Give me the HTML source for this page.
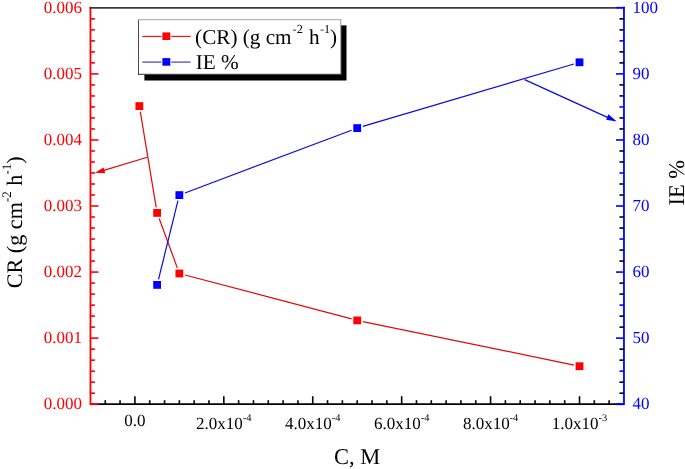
<!DOCTYPE html>
<html><head><meta charset="utf-8"><style>
html,body{margin:0;padding:0;background:#fff;}
svg{display:block;will-change:transform;font-family:"Liberation Serif",serif;text-rendering:geometricPrecision;}
</style></head><body>
<svg width="685" height="469" viewBox="0 0 685 469">
<rect width="685" height="469" fill="#fff"/>
<line x1="90.44" y1="404.20" x2="623.96" y2="404.20" stroke="#000" stroke-width="1.8"/>
<line x1="105.26" y1="404.20" x2="105.26" y2="400.20" stroke="#000" stroke-width="1.6"/>
<line x1="120.08" y1="404.20" x2="120.08" y2="400.20" stroke="#000" stroke-width="1.6"/>
<line x1="134.90" y1="404.20" x2="134.90" y2="396.20" stroke="#000" stroke-width="1.6"/>
<line x1="149.72" y1="404.20" x2="149.72" y2="400.20" stroke="#000" stroke-width="1.6"/>
<line x1="164.54" y1="404.20" x2="164.54" y2="400.20" stroke="#000" stroke-width="1.6"/>
<line x1="179.36" y1="404.20" x2="179.36" y2="400.20" stroke="#000" stroke-width="1.6"/>
<line x1="194.18" y1="404.20" x2="194.18" y2="400.20" stroke="#000" stroke-width="1.6"/>
<line x1="209.00" y1="404.20" x2="209.00" y2="400.20" stroke="#000" stroke-width="1.6"/>
<line x1="223.82" y1="404.20" x2="223.82" y2="396.20" stroke="#000" stroke-width="1.6"/>
<line x1="238.64" y1="404.20" x2="238.64" y2="400.20" stroke="#000" stroke-width="1.6"/>
<line x1="253.46" y1="404.20" x2="253.46" y2="400.20" stroke="#000" stroke-width="1.6"/>
<line x1="268.28" y1="404.20" x2="268.28" y2="400.20" stroke="#000" stroke-width="1.6"/>
<line x1="283.10" y1="404.20" x2="283.10" y2="400.20" stroke="#000" stroke-width="1.6"/>
<line x1="297.92" y1="404.20" x2="297.92" y2="400.20" stroke="#000" stroke-width="1.6"/>
<line x1="312.74" y1="404.20" x2="312.74" y2="396.20" stroke="#000" stroke-width="1.6"/>
<line x1="327.56" y1="404.20" x2="327.56" y2="400.20" stroke="#000" stroke-width="1.6"/>
<line x1="342.38" y1="404.20" x2="342.38" y2="400.20" stroke="#000" stroke-width="1.6"/>
<line x1="357.20" y1="404.20" x2="357.20" y2="400.20" stroke="#000" stroke-width="1.6"/>
<line x1="372.02" y1="404.20" x2="372.02" y2="400.20" stroke="#000" stroke-width="1.6"/>
<line x1="386.84" y1="404.20" x2="386.84" y2="400.20" stroke="#000" stroke-width="1.6"/>
<line x1="401.66" y1="404.20" x2="401.66" y2="396.20" stroke="#000" stroke-width="1.6"/>
<line x1="416.48" y1="404.20" x2="416.48" y2="400.20" stroke="#000" stroke-width="1.6"/>
<line x1="431.30" y1="404.20" x2="431.30" y2="400.20" stroke="#000" stroke-width="1.6"/>
<line x1="446.12" y1="404.20" x2="446.12" y2="400.20" stroke="#000" stroke-width="1.6"/>
<line x1="460.94" y1="404.20" x2="460.94" y2="400.20" stroke="#000" stroke-width="1.6"/>
<line x1="475.76" y1="404.20" x2="475.76" y2="400.20" stroke="#000" stroke-width="1.6"/>
<line x1="490.58" y1="404.20" x2="490.58" y2="396.20" stroke="#000" stroke-width="1.6"/>
<line x1="505.40" y1="404.20" x2="505.40" y2="400.20" stroke="#000" stroke-width="1.6"/>
<line x1="520.22" y1="404.20" x2="520.22" y2="400.20" stroke="#000" stroke-width="1.6"/>
<line x1="535.04" y1="404.20" x2="535.04" y2="400.20" stroke="#000" stroke-width="1.6"/>
<line x1="549.86" y1="404.20" x2="549.86" y2="400.20" stroke="#000" stroke-width="1.6"/>
<line x1="564.68" y1="404.20" x2="564.68" y2="400.20" stroke="#000" stroke-width="1.6"/>
<line x1="579.50" y1="404.20" x2="579.50" y2="396.20" stroke="#000" stroke-width="1.6"/>
<line x1="594.32" y1="404.20" x2="594.32" y2="400.20" stroke="#000" stroke-width="1.6"/>
<line x1="609.14" y1="404.20" x2="609.14" y2="400.20" stroke="#000" stroke-width="1.6"/>
<line x1="90.44" y1="6.84" x2="90.44" y2="405.10" stroke="#ff0000" stroke-width="1.8"/>
<line x1="90.44" y1="404.20" x2="98.44" y2="404.20" stroke="#ff0000" stroke-width="1.9"/>
<line x1="90.44" y1="393.19" x2="94.94" y2="393.19" stroke="#ff0000" stroke-width="1.6"/>
<line x1="90.44" y1="382.18" x2="94.94" y2="382.18" stroke="#ff0000" stroke-width="1.6"/>
<line x1="90.44" y1="371.17" x2="94.94" y2="371.17" stroke="#ff0000" stroke-width="1.6"/>
<line x1="90.44" y1="360.16" x2="94.94" y2="360.16" stroke="#ff0000" stroke-width="1.6"/>
<line x1="90.44" y1="349.15" x2="94.94" y2="349.15" stroke="#ff0000" stroke-width="1.6"/>
<line x1="90.44" y1="338.14" x2="98.44" y2="338.14" stroke="#ff0000" stroke-width="1.6"/>
<line x1="90.44" y1="327.13" x2="94.94" y2="327.13" stroke="#ff0000" stroke-width="1.6"/>
<line x1="90.44" y1="316.12" x2="94.94" y2="316.12" stroke="#ff0000" stroke-width="1.6"/>
<line x1="90.44" y1="305.11" x2="94.94" y2="305.11" stroke="#ff0000" stroke-width="1.6"/>
<line x1="90.44" y1="294.10" x2="94.94" y2="294.10" stroke="#ff0000" stroke-width="1.6"/>
<line x1="90.44" y1="283.09" x2="94.94" y2="283.09" stroke="#ff0000" stroke-width="1.6"/>
<line x1="90.44" y1="272.08" x2="98.44" y2="272.08" stroke="#ff0000" stroke-width="1.6"/>
<line x1="90.44" y1="261.07" x2="94.94" y2="261.07" stroke="#ff0000" stroke-width="1.6"/>
<line x1="90.44" y1="250.06" x2="94.94" y2="250.06" stroke="#ff0000" stroke-width="1.6"/>
<line x1="90.44" y1="239.05" x2="94.94" y2="239.05" stroke="#ff0000" stroke-width="1.6"/>
<line x1="90.44" y1="228.04" x2="94.94" y2="228.04" stroke="#ff0000" stroke-width="1.6"/>
<line x1="90.44" y1="217.03" x2="94.94" y2="217.03" stroke="#ff0000" stroke-width="1.6"/>
<line x1="90.44" y1="206.02" x2="98.44" y2="206.02" stroke="#ff0000" stroke-width="1.6"/>
<line x1="90.44" y1="195.01" x2="94.94" y2="195.01" stroke="#ff0000" stroke-width="1.6"/>
<line x1="90.44" y1="184.00" x2="94.94" y2="184.00" stroke="#ff0000" stroke-width="1.6"/>
<line x1="90.44" y1="172.99" x2="94.94" y2="172.99" stroke="#ff0000" stroke-width="1.6"/>
<line x1="90.44" y1="161.98" x2="94.94" y2="161.98" stroke="#ff0000" stroke-width="1.6"/>
<line x1="90.44" y1="150.97" x2="94.94" y2="150.97" stroke="#ff0000" stroke-width="1.6"/>
<line x1="90.44" y1="139.96" x2="98.44" y2="139.96" stroke="#ff0000" stroke-width="1.6"/>
<line x1="90.44" y1="128.95" x2="94.94" y2="128.95" stroke="#ff0000" stroke-width="1.6"/>
<line x1="90.44" y1="117.94" x2="94.94" y2="117.94" stroke="#ff0000" stroke-width="1.6"/>
<line x1="90.44" y1="106.93" x2="94.94" y2="106.93" stroke="#ff0000" stroke-width="1.6"/>
<line x1="90.44" y1="95.92" x2="94.94" y2="95.92" stroke="#ff0000" stroke-width="1.6"/>
<line x1="90.44" y1="84.91" x2="94.94" y2="84.91" stroke="#ff0000" stroke-width="1.6"/>
<line x1="90.44" y1="73.90" x2="98.44" y2="73.90" stroke="#ff0000" stroke-width="1.6"/>
<line x1="90.44" y1="62.89" x2="94.94" y2="62.89" stroke="#ff0000" stroke-width="1.6"/>
<line x1="90.44" y1="51.88" x2="94.94" y2="51.88" stroke="#ff0000" stroke-width="1.6"/>
<line x1="90.44" y1="40.87" x2="94.94" y2="40.87" stroke="#ff0000" stroke-width="1.6"/>
<line x1="90.44" y1="29.86" x2="94.94" y2="29.86" stroke="#ff0000" stroke-width="1.6"/>
<line x1="90.44" y1="18.85" x2="94.94" y2="18.85" stroke="#ff0000" stroke-width="1.6"/>
<line x1="623.96" y1="6.84" x2="623.96" y2="405.10" stroke="#0000ff" stroke-width="1.8"/>
<line x1="623.96" y1="404.20" x2="615.96" y2="404.20" stroke="#0000ff" stroke-width="1.9"/>
<line x1="623.96" y1="393.19" x2="619.46" y2="393.19" stroke="#000" stroke-width="1.6"/>
<line x1="623.96" y1="382.18" x2="619.46" y2="382.18" stroke="#000" stroke-width="1.6"/>
<line x1="623.96" y1="371.17" x2="619.46" y2="371.17" stroke="#0000ff" stroke-width="1.6"/>
<line x1="623.96" y1="360.16" x2="619.46" y2="360.16" stroke="#000" stroke-width="1.6"/>
<line x1="623.96" y1="349.15" x2="619.46" y2="349.15" stroke="#000" stroke-width="1.6"/>
<line x1="623.96" y1="338.14" x2="615.96" y2="338.14" stroke="#0000ff" stroke-width="1.6"/>
<line x1="623.96" y1="327.13" x2="619.46" y2="327.13" stroke="#000" stroke-width="1.6"/>
<line x1="623.96" y1="316.12" x2="619.46" y2="316.12" stroke="#000" stroke-width="1.6"/>
<line x1="623.96" y1="305.11" x2="619.46" y2="305.11" stroke="#0000ff" stroke-width="1.6"/>
<line x1="623.96" y1="294.10" x2="619.46" y2="294.10" stroke="#000" stroke-width="1.6"/>
<line x1="623.96" y1="283.09" x2="619.46" y2="283.09" stroke="#000" stroke-width="1.6"/>
<line x1="623.96" y1="272.08" x2="615.96" y2="272.08" stroke="#0000ff" stroke-width="1.6"/>
<line x1="623.96" y1="261.07" x2="619.46" y2="261.07" stroke="#000" stroke-width="1.6"/>
<line x1="623.96" y1="250.06" x2="619.46" y2="250.06" stroke="#000" stroke-width="1.6"/>
<line x1="623.96" y1="239.05" x2="619.46" y2="239.05" stroke="#0000ff" stroke-width="1.6"/>
<line x1="623.96" y1="228.04" x2="619.46" y2="228.04" stroke="#000" stroke-width="1.6"/>
<line x1="623.96" y1="217.03" x2="619.46" y2="217.03" stroke="#000" stroke-width="1.6"/>
<line x1="623.96" y1="206.02" x2="615.96" y2="206.02" stroke="#0000ff" stroke-width="1.6"/>
<line x1="623.96" y1="195.01" x2="619.46" y2="195.01" stroke="#000" stroke-width="1.6"/>
<line x1="623.96" y1="184.00" x2="619.46" y2="184.00" stroke="#000" stroke-width="1.6"/>
<line x1="623.96" y1="172.99" x2="619.46" y2="172.99" stroke="#0000ff" stroke-width="1.6"/>
<line x1="623.96" y1="161.98" x2="619.46" y2="161.98" stroke="#000" stroke-width="1.6"/>
<line x1="623.96" y1="150.97" x2="619.46" y2="150.97" stroke="#000" stroke-width="1.6"/>
<line x1="623.96" y1="139.96" x2="615.96" y2="139.96" stroke="#0000ff" stroke-width="1.6"/>
<line x1="623.96" y1="128.95" x2="619.46" y2="128.95" stroke="#000" stroke-width="1.6"/>
<line x1="623.96" y1="117.94" x2="619.46" y2="117.94" stroke="#000" stroke-width="1.6"/>
<line x1="623.96" y1="106.93" x2="619.46" y2="106.93" stroke="#0000ff" stroke-width="1.6"/>
<line x1="623.96" y1="95.92" x2="619.46" y2="95.92" stroke="#000" stroke-width="1.6"/>
<line x1="623.96" y1="84.91" x2="619.46" y2="84.91" stroke="#000" stroke-width="1.6"/>
<line x1="623.96" y1="73.90" x2="615.96" y2="73.90" stroke="#0000ff" stroke-width="1.6"/>
<line x1="623.96" y1="62.89" x2="619.46" y2="62.89" stroke="#000" stroke-width="1.6"/>
<line x1="623.96" y1="51.88" x2="619.46" y2="51.88" stroke="#000" stroke-width="1.6"/>
<line x1="623.96" y1="40.87" x2="619.46" y2="40.87" stroke="#0000ff" stroke-width="1.6"/>
<line x1="623.96" y1="29.86" x2="619.46" y2="29.86" stroke="#000" stroke-width="1.6"/>
<line x1="623.96" y1="18.85" x2="619.46" y2="18.85" stroke="#000" stroke-width="1.6"/>
<line x1="89.54" y1="7.84" x2="615.96" y2="7.84" stroke="#3a3a3a" stroke-width="1.9"/>
<line x1="615.96" y1="7.84" x2="624.86" y2="7.84" stroke="#0000ff" stroke-width="1.9"/>
<text transform="matrix(1 0 0.000873 1 -0.357 0)" x="81.9" y="409.20" text-anchor="end" fill="#ff0000" font-size="17">0.000</text>
<text transform="matrix(1 0 0.000873 1 -0.299 0)" x="81.9" y="343.14" text-anchor="end" fill="#ff0000" font-size="17">0.001</text>
<text transform="matrix(1 0 0.000873 1 -0.242 0)" x="81.9" y="277.08" text-anchor="end" fill="#ff0000" font-size="17">0.002</text>
<text transform="matrix(1 0 0.000873 1 -0.184 0)" x="81.9" y="211.02" text-anchor="end" fill="#ff0000" font-size="17">0.003</text>
<text transform="matrix(1 0 0.000873 1 -0.127 0)" x="81.9" y="144.96" text-anchor="end" fill="#ff0000" font-size="17">0.004</text>
<text transform="matrix(1 0 0.000873 1 -0.069 0)" x="81.9" y="78.90" text-anchor="end" fill="#ff0000" font-size="17">0.005</text>
<text transform="matrix(1 0 0.000873 1 -0.011 0)" x="81.9" y="12.84" text-anchor="end" fill="#ff0000" font-size="17">0.006</text>
<text transform="matrix(1 0 0.000873 1 -0.357 0)" x="632.4" y="409.20" fill="#0000ff" font-size="17">40</text>
<text transform="matrix(1 0 0.000873 1 -0.299 0)" x="632.4" y="343.14" fill="#0000ff" font-size="17">50</text>
<text transform="matrix(1 0 0.000873 1 -0.242 0)" x="632.4" y="277.08" fill="#0000ff" font-size="17">60</text>
<text transform="matrix(1 0 0.000873 1 -0.184 0)" x="632.4" y="211.02" fill="#0000ff" font-size="17">70</text>
<text transform="matrix(1 0 0.000873 1 -0.127 0)" x="632.4" y="144.96" fill="#0000ff" font-size="17">80</text>
<text transform="matrix(1 0 0.000873 1 -0.069 0)" x="632.4" y="78.90" fill="#0000ff" font-size="17">90</text>
<text transform="matrix(1 0 0.000873 1 -0.011 0)" x="632.4" y="12.84" fill="#0000ff" font-size="17">100</text>
<text transform="matrix(1 0 0.000873 1 -0.372 0)" x="134.90" y="425.9" text-anchor="middle" fill="#000" font-size="17">0.0</text>
<text transform="matrix(1 0 0.000873 1 -0.374 0)" x="223.82" y="429.1" text-anchor="middle" fill="#000" font-size="17">2.0x10<tspan font-size="10.4" dy="-8.1">-4</tspan></text>
<text transform="matrix(1 0 0.000873 1 -0.374 0)" x="312.74" y="429.1" text-anchor="middle" fill="#000" font-size="17">4.0x10<tspan font-size="10.4" dy="-8.1">-4</tspan></text>
<text transform="matrix(1 0 0.000873 1 -0.374 0)" x="401.66" y="429.1" text-anchor="middle" fill="#000" font-size="17">6.0x10<tspan font-size="10.4" dy="-8.1">-4</tspan></text>
<text transform="matrix(1 0 0.000873 1 -0.374 0)" x="490.58" y="429.1" text-anchor="middle" fill="#000" font-size="17">8.0x10<tspan font-size="10.4" dy="-8.1">-4</tspan></text>
<text transform="matrix(1 0 0.000873 1 -0.374 0)" x="579.50" y="429.1" text-anchor="middle" fill="#000" font-size="17">1.0x10<tspan font-size="10.4" dy="-8.1">-3</tspan></text>
<text transform="matrix(1 0 0.000873 1 -0.405 0)" x="357.1" y="463.9" text-anchor="middle" fill="#000" font-size="22.5">C, M</text>
<text transform="translate(22.2,222.3) rotate(-90) skewX(0.05)" text-anchor="middle" fill="#000" font-size="22.2">CR (g cm<tspan font-size="13" dy="-11">-2</tspan><tspan dy="11"> h</tspan><tspan font-size="13" dy="-11">-1</tspan><tspan dy="11">)</tspan></text>
<text transform="translate(683.5,182.7) rotate(-90) skewX(0.05)" text-anchor="middle" fill="#000" font-size="22.5">IE %</text>
<line x1="140.28" y1="111.70" x2="156.20" y2="207.30" stroke="#e00808" stroke-width="1.2"/>
<line x1="159.18" y1="218.50" x2="177.31" y2="267.90" stroke="#e00808" stroke-width="1.2"/>
<line x1="184.96" y1="274.98" x2="351.60" y2="318.92" stroke="#e00808" stroke-width="1.2"/>
<line x1="362.80" y1="321.55" x2="573.90" y2="365.05" stroke="#e00808" stroke-width="1.2"/>
<rect x="135.45" y="102.20" width="7.8" height="7.8" fill="#ff0000"/>
<rect x="153.23" y="209.00" width="7.8" height="7.8" fill="#ff0000"/>
<rect x="175.46" y="269.60" width="7.8" height="7.8" fill="#ff0000"/>
<rect x="353.30" y="316.50" width="7.8" height="7.8" fill="#ff0000"/>
<rect x="575.60" y="362.30" width="7.8" height="7.8" fill="#ff0000"/>
<line x1="158.52" y1="279.30" x2="177.97" y2="200.70" stroke="#0a0ae0" stroke-width="1.2"/>
<line x1="184.96" y1="192.99" x2="351.60" y2="130.21" stroke="#0a0ae0" stroke-width="1.2"/>
<line x1="362.80" y1="126.44" x2="573.90" y2="63.96" stroke="#0a0ae0" stroke-width="1.2"/>
<rect x="153.23" y="281.00" width="7.8" height="7.8" fill="#0000ff"/>
<rect x="175.46" y="191.20" width="7.8" height="7.8" fill="#0000ff"/>
<rect x="353.30" y="124.20" width="7.8" height="7.8" fill="#0000ff"/>
<rect x="575.60" y="58.40" width="7.8" height="7.8" fill="#0000ff"/>
<line x1="147.3" y1="157.3" x2="103" y2="170.6" stroke="#e00808" stroke-width="1.2"/>
<polygon points="94.7,172.8 103.6,167.6 105.2,173.3" fill="#ff0000"/>
<line x1="524.6" y1="79.6" x2="608" y2="117.6" stroke="#0a0ae0" stroke-width="1.2"/>
<polygon points="616.8,121.5 608.3,114.3 606.2,119.7" fill="#0000ff"/>
<rect x="144.4" y="25.4" width="202.1" height="55.1" fill="#000"/>
<rect x="138.5" y="19.5" width="202.2" height="55" fill="#fff"/>
<line x1="138.5" y1="19" x2="138.5" y2="75" stroke="#4a4a4a" stroke-width="1"/>
<line x1="138" y1="19.6" x2="341.2" y2="19.6" stroke="#b4b4b4" stroke-width="1.1"/>
<line x1="340.7" y1="19" x2="340.7" y2="75" stroke="#a8a8a8" stroke-width="1.1"/>
<line x1="138" y1="74.3" x2="341.2" y2="74.3" stroke="#333" stroke-width="1"/>
<line x1="142.3" y1="36.4" x2="161.5" y2="36.4" stroke="#ff0000" stroke-width="1.1"/>
<line x1="171.3" y1="36.4" x2="190.6" y2="36.4" stroke="#ff0000" stroke-width="1.1"/>
<rect x="162.4" y="32.4" width="7.9" height="7.6" fill="#ff0000"/>
<line x1="142.3" y1="62.1" x2="161.5" y2="62.1" stroke="#4646c0" stroke-width="1.25"/>
<line x1="171.3" y1="62.1" x2="190.6" y2="62.1" stroke="#4646c0" stroke-width="1.25"/>
<rect x="162.4" y="58.1" width="7.9" height="7.6" fill="#0000ff"/>
<text transform="matrix(1 0 0.000873 1 -0.039 0)" x="195.1" y="44.2" fill="#000" font-size="21.2">(CR) (g cm<tspan font-size="12.3" dx="1" dy="-11.4">-2</tspan><tspan dx="0.8" dy="11.4"> h</tspan><tspan font-size="12.3" dx="0.4" dy="-11.4">-1</tspan><tspan dx="-0.3" dy="11.4">)</tspan></text>
<text transform="matrix(1 0 0.000873 1 -0.060 0)" x="195.8" y="68.7" fill="#000" font-size="21.2">IE %</text>
</svg>
</body></html>
